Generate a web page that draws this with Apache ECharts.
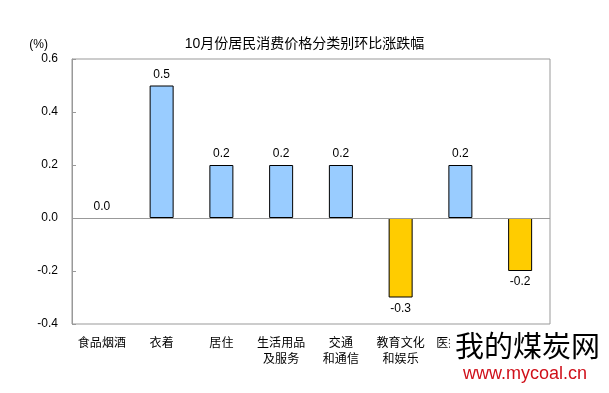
<!DOCTYPE html>
<html><head><meta charset="utf-8">
<script src="https://cdn.jsdelivr.net/npm/echarts@6/dist/echarts.min.js"></script>
<style>html,body{margin:0;padding:0;background:#fff}#c{width:609px;height:393px}</style>
</head><body><div id="c"></div>
<script>
var categories = ['食品烟酒','衣着','居住','生活用品\n及服务','交通\n和通信','教育文化\n和娱乐','医疗保健','其他用品\n和服务'];
var values = [0.0, 0.5, 0.2, 0.2, 0.2, -0.3, 0.2, -0.2];
var yTicks = [-0.4, -0.2, 0.0, 0.2, 0.4, 0.6];

var FONT = '"Liberation Sans", "Noto Sans CJK SC", sans-serif';
var chart = echarts.init(document.getElementById('c'));
var data = values.map(function (v) {
  return {
    value: v,
    itemStyle: { color: v < 0 ? '#FFCC00' : '#99CCFF', borderWidth: v === 0 ? 0 : 1 },
    label: { position: v < 0 ? 'bottom' : 'top' }
  };
});
chart.setOption({
  animation: false,
  title: {
    text: '10月份居民消费价格分类别环比涨跌幅',
    left: 'center', top: 32,
    textStyle: { fontSize: 14, fontWeight: 'normal', color: '#000', fontFamily: FONT }
  },
  grid: { left: 72, right: 59, top: 59, bottom: 69, show: true, borderColor: '#999', borderWidth: 1, backgroundColor: 'transparent' },
  xAxis: {
    type: 'category', data: categories,
    axisLine: { show: false, onZero: false },
    axisTick: { show: false },
    axisLabel: { color: '#000', fontSize: 12, fontFamily: FONT, margin: 12, lineHeight: 16, interval: 0 }
  },
  yAxis: {
    type: 'value', min: yTicks[0], max: yTicks[yTicks.length - 1], interval: 0.2,
    name: '(%)', nameLocation: 'end', nameGap: 8,
    nameTextStyle: { color: '#000', fontSize: 12, fontFamily: FONT, align: 'right', padding: [0, 24, 0, 0] },
    splitLine: { show: false },
    axisLine: { show: true, lineStyle: { color: '#999' } },
    axisTick: { show: true, inside: true, length: 4, lineStyle: { color: '#999' } },
    axisLabel: { color: '#000', fontSize: 12, fontFamily: FONT, margin: 14, formatter: function (v) { return v.toFixed(1); } }
  },
  series: [{
    type: 'bar', data: data, barWidth: 24,
    itemStyle: { borderColor: '#000', borderWidth: 1 },
    label: { show: true, color: '#000', fontSize: 12, fontFamily: FONT, distance: 5, formatter: function (p) { return p.value.toFixed(1); } },
    markLine: {
      silent: true, symbol: 'none', label: { show: false },
      lineStyle: { color: '#999', type: 'solid', width: 1 },
      data: [{ yAxis: 0 }]
    }
  }],
  graphic: [
    { type: 'rect', left: 450, top: 333, z: 99, shape: { width: 159, height: 60 }, style: { fill: '#fff' } },
    { type: 'text', left: 455, top: 331, z: 100, style: { text: '我的煤炭网', fill: '#000', font: '29px "Noto Sans CJK SC", sans-serif' } },
    { type: 'text', left: 463, top: 365, z: 100, style: { text: 'www.mycoal.cn', fill: '#D0101A', font: '18px "Liberation Sans", sans-serif' } }
  ]
});
</script></body></html>
